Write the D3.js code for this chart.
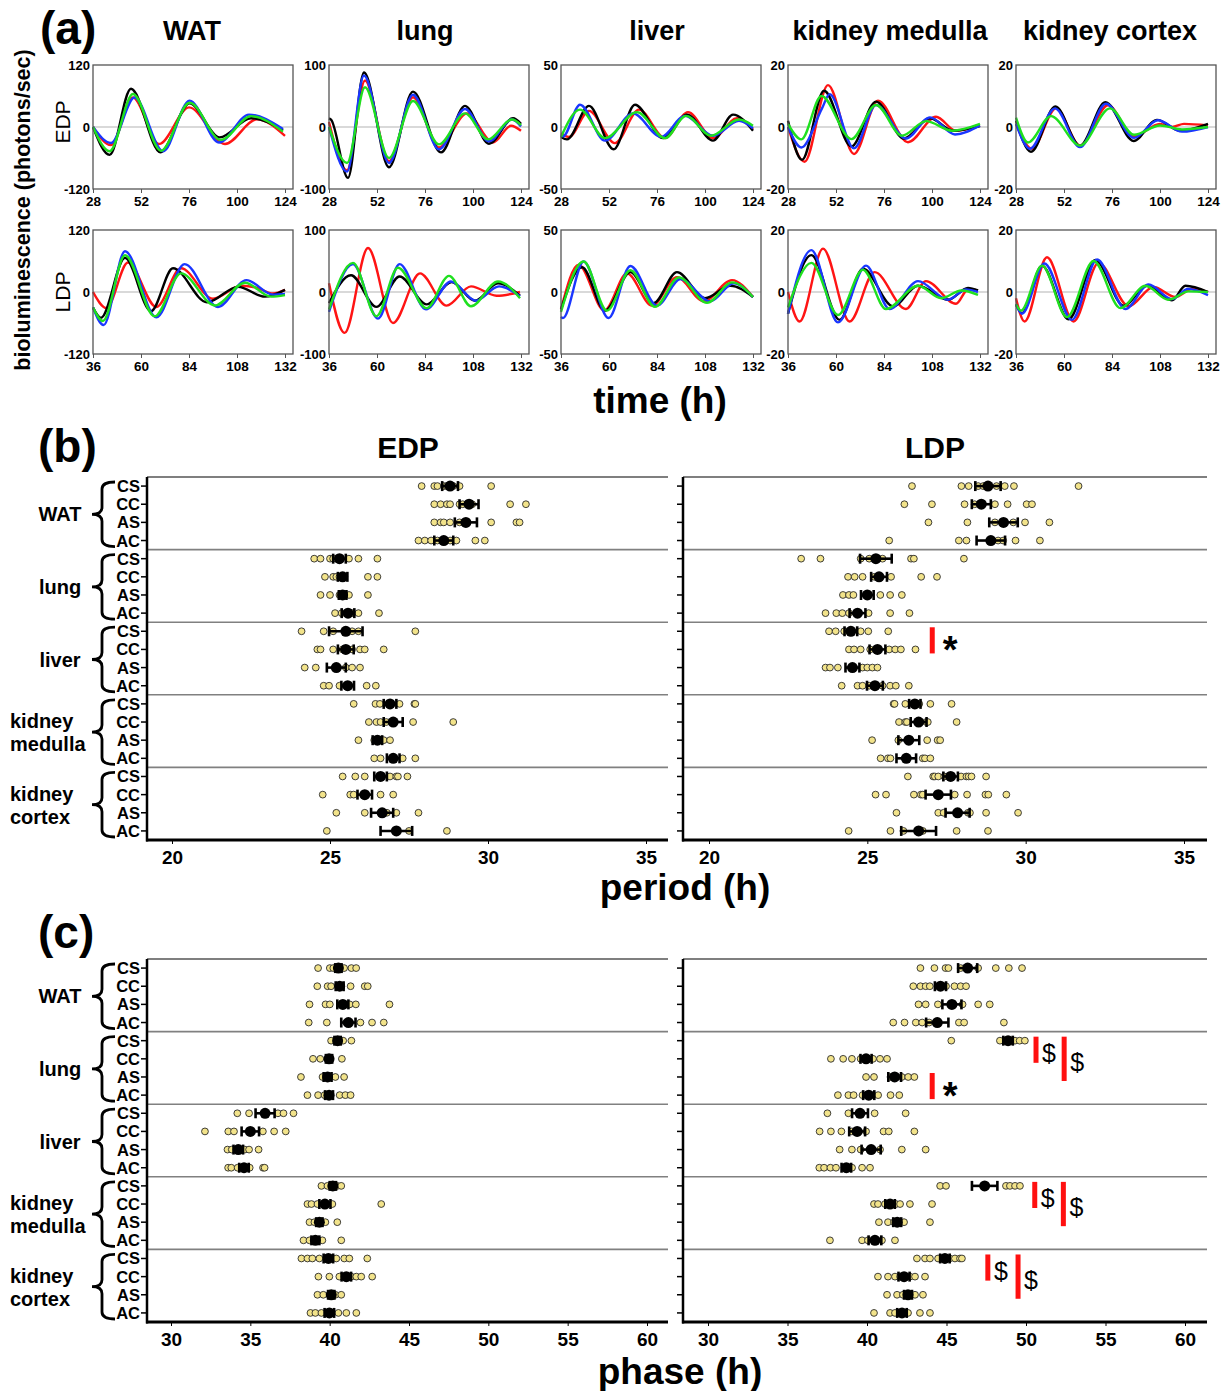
<!DOCTYPE html>
<html><head><meta charset="utf-8">
<script src="https://cdn.jsdelivr.net/npm/d3@7"></script>
<style>
body{margin:0;background:#fff;}
svg{display:block;}
</style></head><body>
<svg id="chart" width="1232" height="1391"></svg>
<script>
// ---------------- categories ----------------
const tissues = ["WAT","lung","liver","kidney medulla","kidney cortex"];
const groups = ["CS","CC","AS","AC"];
const traceOrder = ["red","black","blue","green"];
const traceYMax = [120,100,50,20,20];
const edpTimeDomain = [28,128], ldpTimeDomain = [36,136];
const edpTimeTicks = [28,52,76,100,124];
const ldpTimeTicks = [36,60,84,108,132];
const periodTicks = [20,25,30,35];
const phaseTicks = [30,35,40,45,50,55,60];

// ---------------- (a) bioluminescence traces: [time h, value] read at extremes ----------------
const WAT_EDP = {
  red:   [[28,0],[37,-35],[48,57],[61,-33],[76,38],[94,-33],[110,15],[124,-17]],
  black: [[28,0],[36.3,-54],[47,74],[61.7,-49],[76.3,46],[91.3,-20],[107,17],[123,-6]],
  blue:  [[28,0],[37,-31],[48.8,57],[63,-47],[76.3,51],[91,-30],[106,24],[123,-4]],
  green: [[28,0],[36.3,-47],[48,64],[62,-46],[76.3,47],[92,-25],[107,21],[123,-9]]
};
const lung_EDP = {
  red:   [[28,8],[37,-70],[46,75],[58,-55],[70,48],[83,-33],[97,22],[110,-25],[119,2],[124,-6]],
  black: [[28,14],[29,12],[37.5,-82],[45.5,88],[58,-65],[70,57],[84,-41],[96,34],[108,-27],[120,14],[124,5]],
  blue:  [[28,0],[37,-72],[45.5,83],[58,-58],[70,52],[83,-36],[96,29],[108,-23],[119.5,12],[124,1]],
  green: [[28,0],[37,-58],[46,64],[58,-50],[70,42],[83,-28],[96,22],[107.5,-20],[119.5,12],[124,3]]
};
const liver_EDP = {
  red:   [[28,-5],[32,-8],[42,13],[55,-13],[67,14],[80,-9],[91.5,12],[104,-9],[116,7],[124,-2]],
  black: [[28,-8],[31,-10],[42,17],[54.3,-18],[65,18],[79,-9],[91,10],[104,-11],[114,10],[124,-3]],
  blue:  [[28,-7],[29,-7.5],[37.5,18],[50,-11],[64,11],[78,-8],[90,9],[104,-7],[117,5],[124,-1]],
  green: [[28,-8],[37.5,14],[50,-9],[66,12],[80,-9],[90.5,9],[103,-7],[117,6],[124,1]]
};
const medulla_EDP = {
  red:   [[28,0],[36.3,-11.2],[48,13.5],[61,-8.7],[73,8.5],[88,-4.9],[102,3.3],[112,-1.2],[124,0.5]],
  black: [[28,2],[35,-10.6],[46,11.7],[59.7,-6.3],[72,8.2],[86,-3.7],[99,2.8],[110.5,-1.2],[124,0.3]],
  blue:  [[28,0],[34.7,-6.6],[45,6],[48.8,10.6],[61,-6.9],[72,7.1],[87,-3.7],[99,3.1],[111.5,-2.4],[124,0.5]],
  green: [[28,1],[34.7,-4],[44.7,10],[59.7,-3.9],[72,7.1],[85,-2.8],[97,1.9],[110,-1.2],[124,1]]
};
const cortex_EDP = {
  red:   [[28,1],[36,-7],[48,6],[60,-6],[74,7],[87,-3],[100,1],[106,0],[112,1],[124,0.5]],
  black: [[28,2],[35.5,-8],[47.7,6.6],[60,-6.1],[72.7,8],[86.8,-4.5],[98.5,2.3],[110,-1.2],[124,1]],
  blue:  [[28,1],[35,-7],[47.5,6],[60,-6.5],[73,7.5],[87,-3.5],[99,2.2],[111,-1.5],[124,0]],
  green: [[28,3],[34,-5],[45.5,3.5],[60,-6],[75,6],[87,-2.5],[100,0.5],[111,-0.8],[124,0]]
};
const WAT_LDP = {
  red:   [[36,0],[42.7,-31],[53.5,57],[67.7,-29],[80,46],[96,-13],[110,12],[118,8],[126,-3],[132,4]],
  black: [[36,-30],[40,-50],[52,66],[65,-37],[76,46],[93,-20],[108.5,10],[122,-9],[132,4]],
  blue:  [[36,-30],[41.3,-64],[52,79],[67.7,-49],[81.8,54],[98.5,-29],[112.7,23],[126,-5],[132,-4]],
  green: [[36,-30],[41,-56],[52,71],[66.8,-47],[80,36],[97,-26],[112,18],[125,-9],[132,-6]]
};
const lung_LDP = {
  red:   [[36,14],[43.8,-66],[55.5,71],[68,-50],[81.5,30],[94.8,-22],[107,9],[119.8,-6],[131.5,0]],
  black: [[36,-18],[47,27],[59.7,-24],[71.3,25],[84.8,-20],[97.3,16],[109,-14],[120.5,14],[131.5,-6]],
  blue:  [[36,-32],[48,45],[60.5,-43],[71.3,45],[84.5,-28],[97,17],[109.3,-14],[121,9],[131.5,-7]],
  green: [[36,-28],[48,47],[59.7,-39],[70.5,39],[84.8,-26],[96,26],[107,-23],[120.5,17],[131.5,-10]]
};
const liver_LDP = {
  red:   [[36,-14],[44.8,22],[57.7,-15],[69,15],[81.5,-11],[94,12],[107.3,-7.5],[121.5,9.6],[132,-4]],
  black: [[36,-14],[46.5,20],[58,-15],[70.7,16],[82.3,-9],[94,16],[108,-5],[120.7,5],[132,-4]],
  blue:  [[36,-20],[37,-21],[47.3,24.6],[59.8,-21],[70.7,21],[84,-11],[95.7,10.4],[110.7,-7.5],[122.3,7],[132,-4]],
  green: [[36,-16],[47.3,24.6],[59,-15],[70.7,17.6],[83,-12],[95,11.8],[109,-8.8],[121.5,7.8],[132,-4]]
};
const medulla_LDP = {
  red:   [[36,0],[41.8,-9.5],[53.5,14],[66.8,-9.5],[79.3,6.4],[95,-5.5],[105,3.5],[120,-3.8],[126,0.8],[131,0.5]],
  black: [[36,-7],[47.7,11.9],[61.8,-9],[73.5,7.5],[88.5,-4.6],[101,2],[116,-2.5],[126,1.3],[131,0.5]],
  blue:  [[36,-7],[47.7,13.5],[61,-9.8],[75,8.5],[86.8,-5.5],[101,3.5],[116,-2.5],[125,0.8],[131,0]],
  green: [[36,-5],[47.7,9.4],[61,-7.4],[73.5,7.2],[85,-5.5],[101,2],[112.7,-2],[122.7,0.5],[131,-0.9]]
};
const cortex_LDP = {
  red:   [[36,-2],[40.3,-9.5],[51.5,11.2],[64.8,-9.5],[77.3,9.4],[92.3,-4.6],[104.8,1.6],[115.7,-1.6],[124,1],[132,0]],
  black: [[36,-4],[39,-6.8],[49,8.5],[62.3,-8.8],[75.7,10.3],[89.8,-4.4],[101.5,2],[114,-2.7],[120.7,2],[132,0]],
  blue:  [[36,-4],[39,-7],[50.2,9.2],[64,-9],[76.5,10.5],[90.7,-5.5],[102.3,2.4],[114,-2.3],[122,1],[132,-1]],
  green: [[36,-4],[38.5,-6],[49,8.5],[61.5,-8.1],[74.8,10],[88.2,-5.2],[100.7,2],[112.3,-2.5],[122.3,0.2],[132,0]]
};

// ---------------- (b) period (h): individual values, mean, SEM per row ----------------
const periodEDP_pts = [
  [27.9,28.3,28.4,28.6,28.7,28.9,29.1,30.1],
  [28.3,28.5,28.7,28.8,29.1,29.2,29.5,30.7,31.2],
  [28.3,28.5,28.6,28.8,29.1,29.3,30.1,30.9,31.0],
  [27.8,28.0,28.2,28.4,28.6,28.8,29.0,29.6,29.9],
  [24.5,24.7,25.0,25.1,25.2,25.3,25.6,25.9,26.5],
  [24.84,25.1,25.2,25.3,25.4,26.2,26.5],
  [24.7,25.0,25.3,25.4,25.6,26.2],
  [25.16,25.37,25.57,25.7,25.9,26.55],
  [24.1,24.8,25.1,25.5,25.7,25.9,27.7],
  [24.6,24.7,25.1,25.4,25.5,25.7,25.95,26.1,26.7],
  [24.2,24.55,25.2,25.5,25.7,25.95],
  [24.8,24.97,25.3,25.56,26.16,26.45],
  [25.75,26.44,26.58,26.92,27.2,27.67,27.7],
  [26.23,26.47,26.6,26.78,26.98,27.63,28.9],
  [25.9,26.4,26.5,26.7,26.9],
  [26.4,26.6,27.0,27.3,27.7],
  [25.4,25.8,26.1,26.6,26.9,27.1,27.15,27.45],
  [24.77,25.64,25.75,26.12,26.6,27.0],
  [25.2,26.1,26.64,26.8,27.1,27.8],
  [24.9,27.1,27.5,28.7]
];
const periodEDP_mean = [28.8,29.4,29.3,28.6, 25.3,25.4,25.4,25.57, 25.5,25.5,25.2,25.56, 26.9,27.0,26.5,27.0, 26.6,26.1,26.65,27.1];
const periodEDP_sem  = [0.25,0.3,0.35,0.3, 0.2,0.15,0.12,0.2, 0.53,0.25,0.3,0.2, 0.2,0.3,0.15,0.2, 0.2,0.23,0.35,0.5];

const periodLDP_pts = [
  [26.41,27.97,28.2,28.5,28.66,28.81,29.08,29.34,29.63,31.67],
  [26.17,27.04,28.07,28.39,28.6,29.03,29.43,30.03,30.2],
  [26.93,28.16,29.03,29.29,29.61,29.98,30.75],
  [25.69,27.89,28.13,28.87,29.13,29.29,29.68,30.45],
  [22.91,23.52,24.79,25.06,25.27,25.48,26.38,26.47,28.05],
  [24.39,24.6,24.85,25.22,25.37,25.75,26.7,27.2],
  [24.23,24.42,24.56,25.0,25.41,25.72,26.09],
  [23.68,24.02,24.21,24.42,24.69,25.04,25.72,26.33],
  [23.79,24.0,24.27,24.48,24.79,25.03,25.66],
  [24.42,24.58,24.79,25.09,25.32,25.69,25.88,26.06,26.52],
  [23.68,23.82,24.07,24.53,24.85,25.0,25.16,25.32],
  [24.19,24.69,24.85,25.06,25.24,25.48,25.72,25.9,26.31],
  [25.83,25.86,26.2,26.5,26.64,26.99,27.66],
  [26.0,26.2,26.25,26.62,26.86,26.91,27.82],
  [25.15,25.98,26.31,26.89,27.22,27.3],
  [25.42,25.65,25.73,26.23,26.75,26.82,26.99],
  [26.28,27.08,27.13,27.24,27.43,27.63,27.96,28.13,28.2,28.29,28.75],
  [25.26,25.59,26.47,26.69,26.75,27.24,27.76,28.15,28.73,28.82,29.39],
  [25.92,27.24,27.41,27.85,28.18,28.24,28.75,29.76],
  [24.41,25.73,26.14,26.62,26.75,27.82,28.81]
];
const periodLDP_mean = [28.81,28.6,29.3,28.9, 25.27,25.37,25.0,24.69, 24.48,25.32,24.53,25.24, 26.5,26.62,26.31,26.23, 27.63,27.24,27.85,26.62];
const periodLDP_sem  = [0.4,0.3,0.45,0.45, 0.5,0.25,0.2,0.25, 0.2,0.25,0.22,0.25, 0.18,0.25,0.33,0.31, 0.23,0.4,0.38,0.55];

// ---------------- (c) phase (h) ----------------
const phaseEDP_pts = [
  [39.27,40.01,40.23,40.55,40.91,41.37,41.67],
  [39.22,39.87,40.09,40.63,41.32,42.21,42.4],
  [38.73,39.74,40.01,40.83,41.26,41.65,43.77],
  [38.68,39.82,41.04,41.18,41.94,42.67,43.41],
  [40.09,40.5,40.85,41.37],
  [38.95,39.41,39.96,40.77],
  [38.19,39.55,39.87,40.36,40.91],
  [38.6,39.27,39.68,39.96,40.63,40.99,41.32],
  [34.18,34.92,35.93,36.74,37.09,37.72],
  [32.14,33.61,33.97,35.0,35.79,36.5,37.23],
  [33.56,33.83,34.24,34.65,34.92,35.52],
  [33.6,33.8,34.2,34.6,34.96,35.8,35.9],
  [39.48,39.86,40.17,40.48,40.73],
  [38.6,38.85,39.23,39.67,40.17,43.25],
  [38.73,39.04,39.35,39.73,40.48],
  [38.35,38.73,39.1,39.54,40.73],
  [38.22,38.6,38.91,39.35,39.92,40.42,40.92,41.24,42.37],
  [39.29,39.98,40.61,41.05,41.36,41.68,41.99,42.68],
  [39.23,39.6,40.04,40.36,40.73],
  [38.79,39.1,39.48,39.98,40.55,41.05,41.68]
];
const phaseEDP_mean = [40.55,40.63,40.83,41.18, 40.5,39.96,39.87,39.96, 35.93,35.0,34.24,34.6, 40.2,39.7,39.35,39.1, 39.92,41.05,40.1,39.98];
const phaseEDP_sem  = [0.2,0.25,0.35,0.45, 0.2,0.2,0.25,0.25, 0.6,0.55,0.3,0.3, 0.2,0.35,0.2,0.25, 0.3,0.3,0.2,0.3];

const phaseLDP_pts = [
  [43.36,44.24,44.94,45.12,45.89,46.33,46.99,48.1,48.92,49.75],
  [42.91,43.36,43.69,43.95,44.62,44.97,45.5,45.89,46.23],
  [43.24,43.69,44.46,45.34,46.01,46.99,47.72],
  [41.65,42.36,43.07,43.47,43.91,44.42,45.78,46.11,48.61],
  [45.3,48.36,48.87,49.31,49.6,49.93],
  [37.73,38.5,39.05,39.6,39.94,40.38,40.82,41.26],
  [39.94,40.44,41.48,41.74,42.19,42.59,42.98],
  [38.17,38.83,39.16,39.72,40.11,40.7,41.48,42.03],
  [37.51,38.83,39.56,40.48,42.43],
  [37.02,37.73,38.39,39.05,39.38,39.94,41.04,41.37,42.98],
  [38.28,39.05,39.6,40.26,40.82,42.19,43.69],
  [37.0,37.3,37.7,38.05,38.6,39.06,39.69,40.19],
  [44.6,44.97,48.74,48.99,49.31,49.62],
  [40.44,40.69,41.13,41.45,41.82,42.08,42.7,44.09],
  [40.75,41.32,41.7,41.89,42.33,43.96],
  [37.67,39.69,40.06,40.5,40.94,41.76],
  [43.14,43.65,43.96,44.47,44.9,45.2,45.53,45.85,45.97],
  [40.69,41.32,41.76,42.08,42.33,42.7,43.02,43.65],
  [41.26,41.89,42.26,42.58,43.02,43.52],
  [40.44,41.45,41.76,42.2,42.58,43.33,43.96]
];
const phaseLDP_mean = [46.33,44.62,45.34,44.42, 48.87,39.94,41.74,40.11, 39.56,39.38,40.26,38.7, 47.4,41.45,41.9,40.5, 44.9,42.33,42.58,42.2];
const phaseLDP_sem  = [0.6,0.35,0.6,0.7, 0.3,0.35,0.4,0.35, 0.5,0.5,0.6,0.3, 0.8,0.3,0.25,0.4, 0.3,0.35,0.25,0.3];

// significance marks: [x value (h), first row, last row, symbol]
const periodLDP_marks = [[27.05,"liver|CS","liver|CC","*"]];
const phaseLDP_marks = [
  [50.63,"lung|CS","lung|CC","$"],[52.4,"lung|CS","lung|AS","$"],[44.1,"lung|AS","lung|AC","*"],
  [50.55,"kidney medulla|CS","kidney medulla|CC","$"],[52.35,"kidney medulla|CS","kidney medulla|AS","$"],
  [47.6,"kidney cortex|CS","kidney cortex|CC","$"],[49.5,"kidney cortex|CS","kidney cortex|AS","$"]
];

// ---------------- drawing ----------------
const FONT = '"Liberation Sans", Arial, Helvetica, sans-serif';
const NARROW = '"Liberation Sans Narrow", "Arial Narrow", "Liberation Sans", Arial, sans-serif';
const COLORS = {red:"#ff1414", black:"#000000", blue:"#1a36ff", green:"#1fe01f"};
const svg = d3.select("#chart").style("font-family", FONT);
svg.append("rect").attr("width",1232).attr("height",1391).attr("fill","#fff");

function text(x,y,s,size,o={}){
  const t = svg.append("text").attr("x",x).attr("y",y).text(s)
    .attr("font-size",size).attr("font-weight",o.weight||"bold")
    .attr("text-anchor",o.anchor||"start").attr("fill",o.fill||"#000")
    .attr("font-family",o.family||FONT);
  if(o.rotate) t.attr("transform",`rotate(-90,${x},${y})`);
  return t;
}
const minusFmt = d => d < 0 ? "-" + Math.abs(d) : String(d);

// ---- panel (a)
text(40,44,"(a)",46);
const colCenters = [192,425,657,890,1110];
tissues.forEach((t,i)=> text(colCenters[i],40,t,27,{anchor:"middle"}));
text(30,210,"bioluminescence (photons/sec)",21.5,{anchor:"middle",rotate:true});
text(70,122,"EDP",21,{anchor:"middle",rotate:true,weight:"normal"});
text(70,292,"LDP",21,{anchor:"middle",rotate:true,weight:"normal"});
text(660,413,"time (h)",37,{anchor:"middle"});

const boxX = [93,329,561,788,1016], boxW = 200, boxH = 124;
const traceRows = [
  {top:65, sets:[WAT_EDP,lung_EDP,liver_EDP,medulla_EDP,cortex_EDP], dom:edpTimeDomain, ticks:edpTimeTicks},
  {top:230, sets:[WAT_LDP,lung_LDP,liver_LDP,medulla_LDP,cortex_LDP], dom:ldpTimeDomain, ticks:ldpTimeTicks}
];
traceRows.forEach(r=>{
  r.sets.forEach((set,i)=>{
    const g = svg.append("g").attr("transform",`translate(${boxX[i]},${r.top})`);
    const x = d3.scaleLinear().domain(r.dom).range([0,boxW]);
    const y = d3.scaleLinear().domain([-traceYMax[i],traceYMax[i]]).range([boxH,0]);
    g.append("line").attr("x1",0).attr("x2",boxW).attr("y1",y(0)).attr("y2",y(0))
      .attr("stroke","#b4b4b4").attr("stroke-width",1.2);
    const line = d3.line().x(d=>x(d[0])).y(d=>y(d[1])).curve(d3.curveMonotoneX);
    traceOrder.forEach(c=>{
      g.append("path").datum(set[c]).attr("d",line).attr("fill","none")
        .attr("stroke",COLORS[c]).attr("stroke-width",2.4).attr("stroke-linejoin","round");
    });
    g.append("rect").attr("width",boxW).attr("height",boxH).attr("fill","none")
      .attr("stroke","#555").attr("stroke-width",1.3);
    const xa = g.append("g").attr("transform",`translate(0,${boxH})`)
      .call(d3.axisBottom(x).tickValues(r.ticks).tickSize(4).tickPadding(3).tickFormat(d3.format("d")));
    xa.select(".domain").remove();
    xa.selectAll("line").attr("stroke","#555");
    xa.selectAll("text").attr("font-size",13.5).attr("font-weight","bold").attr("font-family",FONT).attr("fill","#000");
    const ya = g.append("g").call(d3.axisLeft(y).tickValues([-traceYMax[i],0,traceYMax[i]]).tickSize(0).tickPadding(3).tickFormat(minusFmt));
    ya.select(".domain").remove();
    ya.selectAll("text").attr("font-size",13).attr("font-weight","bold").attr("font-family",FONT).attr("fill","#000");
  });
});

// ---- dot panels (b) and (c)
const rowKeys = tissues.flatMap(t=>groups.map(gr=>t+"|"+gr));

function brace(xl,xm,xr,y0,y1){
  const ym=(y0+y1)/2, r=7;
  const p = `M${xr},${y0} Q${xm},${y0} ${xm},${y0+r} L${xm},${ym-r} Q${xm},${ym} ${xl},${ym} Q${xm},${ym} ${xm},${ym+r} L${xm},${y1-r} Q${xm},${y1} ${xr},${y1}`;
  svg.append("path").attr("d",p).attr("fill","none").attr("stroke","#000").attr("stroke-width",2.8);
}

function dotSection(cfg){
  const rows = d3.scaleBand().domain(rowKeys).range([cfg.top,cfg.bottom]);
  const gh = (cfg.bottom-cfg.top)/tissues.length;
  // left labels
  tissues.forEach((t,i)=>{
    const y0 = cfg.top + i*gh, ym = y0 + gh/2;
    if(t.indexOf(" ")>0){
      const parts = t.split(" ");
      text(10,ym-3,parts[0],20);
      text(10,ym+20,parts[1],20);
    } else {
      text(60,ym+8,t,20,{anchor:"middle"});
    }
    brace(92,102,115,y0+5,y0+gh-3);
  });
  rowKeys.forEach(k=>{
    text(140,rows(k)+rows.bandwidth()/2+6,k.split("|")[1],16.5,{anchor:"end",family:NARROW});
  });
  cfg.panels.forEach(P=>{
    const x = d3.scaleLinear().domain(cfg.domain).range(P.range);
    const g = svg.append("g");
    // separators
    for(let i=0;i<tissues.length;i++){
      g.append("line").attr("x1",P.x0).attr("x2",P.x1)
        .attr("y1",cfg.top+i*gh).attr("y2",cfg.top+i*gh)
        .attr("stroke", i===0 ? "#555" : "#808080").attr("stroke-width",1.6);
    }
    // row ticks
    rowKeys.forEach(k=>{
      const yy = rows(k)+rows.bandwidth()/2;
      g.append("line").attr("x1",P.x0-6).attr("x2",P.x0).attr("y1",yy).attr("y2",yy)
        .attr("stroke","#000").attr("stroke-width",1.5);
    });
    // axes
    g.append("line").attr("x1",P.x0).attr("x2",P.x0).attr("y1",cfg.top).attr("y2",cfg.bottom+1.5)
      .attr("stroke","#000").attr("stroke-width",2.5);
    const xa = g.append("g").attr("transform",`translate(0,${cfg.bottom})`)
      .call(d3.axisBottom(x).tickValues(cfg.ticks).tickSize(4).tickPadding(7).tickFormat(d3.format("d")));
    xa.select(".domain").remove();
    xa.selectAll("line").attr("stroke","#000");
    xa.selectAll("text").attr("font-size",19).attr("font-weight","bold").attr("font-family",NARROW).attr("fill","#000");
    g.append("line").attr("x1",P.x0-1).attr("x2",P.x1).attr("y1",cfg.bottom).attr("y2",cfg.bottom)
      .attr("stroke","#000").attr("stroke-width",3);
    // data
    rowKeys.forEach((k,ri)=>{
      const yy = rows(k)+rows.bandwidth()/2;
      const pts = P.pts[ri];
      g.selectAll(null).data(pts).enter().append("circle")
        .attr("cx",d=>x(d)).attr("cy",yy).attr("r",3.4)
        .attr("fill","#f2e38a").attr("stroke","#2a2a2a").attr("stroke-width",0.9);
      const m = P.mean[ri], s = P.sem[ri];
      g.append("line").attr("x1",x(m-s)).attr("x2",x(m+s)).attr("y1",yy).attr("y2",yy)
        .attr("stroke","#000").attr("stroke-width",2.6);
      [m-s,m+s].forEach(v=>{
        g.append("line").attr("x1",x(v)).attr("x2",x(v)).attr("y1",yy-5).attr("y2",yy+5)
          .attr("stroke","#000").attr("stroke-width",2.6);
      });
      g.append("circle").attr("cx",x(m)).attr("cy",yy).attr("r",5.5).attr("fill","#000");
    });
    // significance marks
    (P.marks||[]).forEach(mk=>{
      const ya = rows(mk[1])+rows.bandwidth()/2 - 4;
      const yb = rows(mk[2])+rows.bandwidth()/2 + 4;
      g.append("line").attr("x1",x(mk[0])).attr("x2",x(mk[0])).attr("y1",ya).attr("y2",yb)
        .attr("stroke","#ff1010").attr("stroke-width",5);
      const ymid = (ya+yb)/2;
      if(mk[3]==="*"){
        text(x(mk[0])+18,ymid+23,"*",38,{anchor:"middle"});
      } else {
        text(x(mk[0])+13,ymid+12,"$",25,{anchor:"middle",weight:"normal"});
      }
    });
  });
}

text(38,462,"(b)",46);
text(408,458,"EDP",30,{anchor:"middle"});
text(935,458,"LDP",30,{anchor:"middle"});
dotSection({top:477,bottom:840,domain:[20,35],ticks:periodTicks,panels:[
  {x0:147,x1:668,range:[172,646],pts:periodEDP_pts,mean:periodEDP_mean,sem:periodEDP_sem},
  {x0:683,x1:1207,range:[709,1184],pts:periodLDP_pts,mean:periodLDP_mean,sem:periodLDP_sem,marks:periodLDP_marks}
]});
text(685,900,"period (h)",37,{anchor:"middle"});

text(38,948,"(c)",46);
dotSection({top:959,bottom:1322,domain:[30,60],ticks:phaseTicks,panels:[
  {x0:147,x1:668,range:[171,647],pts:phaseEDP_pts,mean:phaseEDP_mean,sem:phaseEDP_sem},
  {x0:683,x1:1207,range:[708,1185],pts:phaseLDP_pts,mean:phaseLDP_mean,sem:phaseLDP_sem,marks:phaseLDP_marks}
]});
text(680,1384,"phase (h)",37,{anchor:"middle"});
</script>
</body></html>
